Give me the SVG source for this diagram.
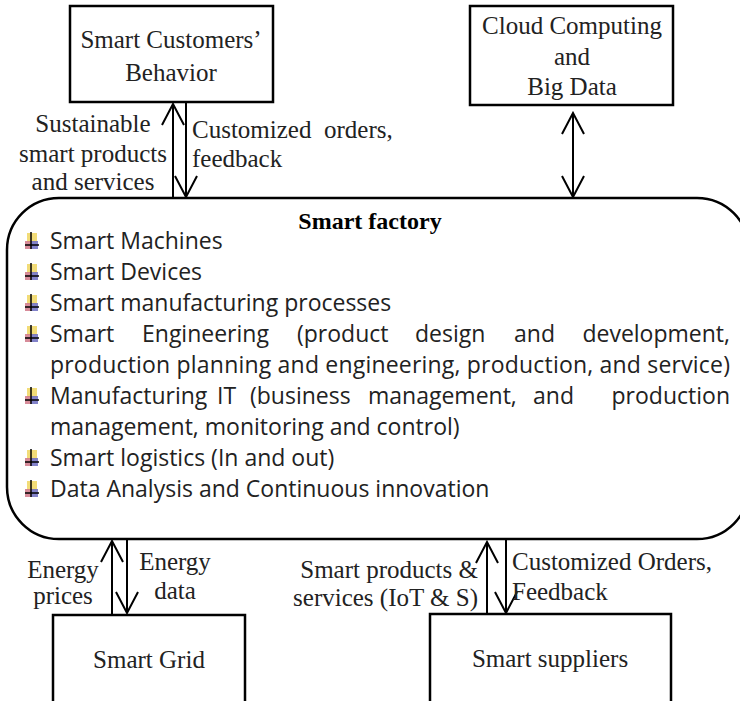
<svg xmlns="http://www.w3.org/2000/svg" width="740" height="701" viewBox="0 0 740 701">
<style>
.box{fill:#fff;stroke:#000;stroke-width:2.5}
.ser{font-family:"Liberation Serif","Times New Roman",serif;font-size:25px;fill:#222}
.mid{text-anchor:middle}
.end{text-anchor:end}
.bold{font-weight:bold;font-size:24px;fill:#000}
.san{font-family:"Open Sans","Noto Sans",sans-serif;font-size:23px;fill:#222}
.con{stroke:#000;stroke-width:2;fill:none}
</style>
<defs>
<marker id="ah" viewBox="0 0 24 24" refX="22" refY="12" markerWidth="24" markerHeight="24" markerUnits="userSpaceOnUse" orient="auto-start-reverse">
<path d="M1,1 L22,12 L1,23" fill="none" stroke="#000" stroke-width="2"/>
</marker>
<g id="bul">
<rect x="27" y="-16" width="10" height="9" fill="#f2dc78"/>
<rect x="25" y="-8" width="6" height="8" fill="#d07888" opacity="0.85"/>
<rect x="31" y="-8" width="7" height="8" fill="#6c6cc0" opacity="0.85"/>
<line x1="31" y1="-17" x2="31" y2="0" stroke="#000" stroke-width="1.5"/>
<line x1="25" y1="-4" x2="39" y2="-4" stroke="#000" stroke-width="1.5"/>
</g>
</defs>

<g id="customers">
<rect class="box" x="70" y="6" width="203" height="96"/>
<text class="ser mid" x="171" y="48">Smart Customers’</text>
<text class="ser mid" x="171" y="81">Behavior</text>
</g>

<g id="cloud">
<rect class="box" x="470" y="6" width="203" height="99"/>
<text class="ser mid" x="572" y="34">Cloud Computing</text>
<text class="ser mid" x="572" y="65">and</text>
<text class="ser mid" x="572" y="95">Big Data</text>
</g>

<g id="factory">
<rect class="box" x="7" y="198" width="742" height="341" rx="52" ry="52"/>
<text class="ser mid bold" x="370" y="229">Smart factory</text>
<use href="#bul" y="249"/>
<text class="san" x="50" y="249">Smart Machines</text>
<use href="#bul" y="280"/>
<text class="san" x="50" y="280">Smart Devices</text>
<use href="#bul" y="311"/>
<text class="san" x="50" y="311">Smart manufacturing processes</text>
<use href="#bul" y="342"/>
<text class="san" y="342"><tspan x="50">Smart</tspan><tspan x="142">Engineering</tspan><tspan x="297">(product</tspan><tspan x="415">design</tspan><tspan x="514">and</tspan></text>
<text class="san end" x="730" y="342">development,</text>
<text class="san" x="50" y="373" textLength="680" lengthAdjust="spacing">production planning and engineering, production, and service)</text>
<use href="#bul" y="404"/>
<text class="san" y="404"><tspan x="50">Manufacturing</tspan><tspan x="217">IT</tspan><tspan x="250">(business</tspan><tspan x="368">management,</tspan><tspan x="533">and</tspan></text>
<text class="san end" x="730" y="404">production</text>
<text class="san" x="50" y="435">management, monitoring and control)</text>
<use href="#bul" y="466"/>
<text class="san" x="50" y="466">Smart logistics (In and out)</text>
<use href="#bul" y="497"/>
<text class="san" x="50" y="497">Data Analysis and Continuous innovation</text>
</g>

<g id="grid">
<rect class="box" x="53" y="615" width="192" height="100"/>
<text class="ser mid" x="149" y="668">Smart Grid</text>
</g>

<g id="suppliers">
<rect class="box" x="430" y="614" width="241" height="100"/>
<text class="ser mid" x="550" y="667">Smart suppliers</text>
</g>

<g id="connectors">
<line class="con" x1="173" y1="198" x2="173" y2="104" marker-end="url(#ah)"/>
<line class="con" x1="186" y1="102" x2="186" y2="197" marker-end="url(#ah)"/>
<line class="con" x1="573" y1="113" x2="573" y2="197" marker-start="url(#ah)" marker-end="url(#ah)"/>
<line class="con" x1="112" y1="615" x2="112" y2="541" marker-end="url(#ah)"/>
<line class="con" x1="127" y1="539" x2="127" y2="613" marker-end="url(#ah)"/>
<line class="con" x1="487" y1="614" x2="487" y2="542" marker-end="url(#ah)"/>
<line class="con" x1="506" y1="539" x2="506" y2="613" marker-end="url(#ah)"/>
</g>

<g id="labels">
<text class="ser mid" x="93" y="132">Sustainable</text>
<text class="ser mid" x="93" y="162">smart products</text>
<text class="ser mid" x="93" y="190">and services</text>
<text class="ser" y="138"><tspan x="192">Customized</tspan><tspan x="324">orders,</tspan></text>
<text class="ser" x="192" y="167">feedback</text>
<text class="ser mid" x="63" y="578">Energy</text>
<text class="ser mid" x="63" y="604">prices</text>
<text class="ser mid" x="175" y="570">Energy</text>
<text class="ser mid" x="175" y="599">data</text>
<text class="ser end" x="478" y="578">Smart products &amp;</text>
<text class="ser end" x="478" y="606">services (IoT &amp; S)</text>
<text class="ser" x="512" y="570">Customized Orders,</text>
<text class="ser" x="512" y="600">Feedback</text>
</g>
</svg>
